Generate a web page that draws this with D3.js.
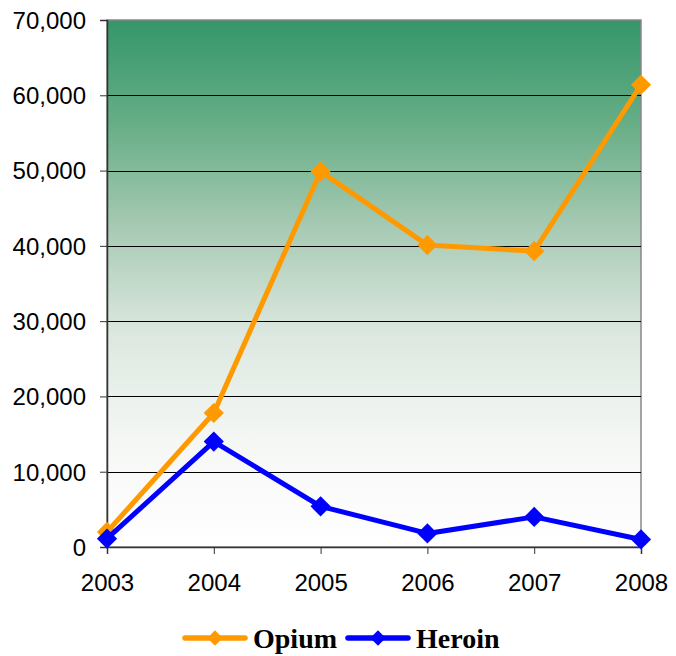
<!DOCTYPE html>
<html>
<head>
<meta charset="utf-8">
<script src="https://cdn.jsdelivr.net/npm/d3@7"></script>
<style>
  body { margin: 0; background: #fff; }
  svg { display: block; }
  .tick text { font-family: "Liberation Sans", Arial, sans-serif; font-size: 24px; fill: #000; }
  .legend text { font-family: "Liberation Serif", "Times New Roman", serif; font-size: 28px; font-weight: bold; }
</style>
</head>
<body>
<svg width="676" height="656"></svg>
<script>
// chart data
const years = ["2003", "2004", "2005", "2006", "2007", "2008"];
const opium = [2000, 17800, 49900, 40100, 39300, 61400];
const heroin = [1100, 14000, 5400, 1800, 4000, 1000];
const yTicks = [0, 10000, 20000, 30000, 40000, 50000, 60000, 70000];
const seriesNames = ["Opium", "Heroin"];
const seriesColors = ["#ff9900", "#0000ff"];

const svg = d3.select('svg');
const margin = { left: 107, top: 20, right: 35, bottom: 109 };
const width = +svg.attr('width') - margin.left - margin.right;
const height = +svg.attr('height') - margin.top - margin.bottom;

const x = d3.scalePoint().domain(years).range([0, width]);
const y = d3.scaleLinear().domain([0, 70000]).range([height, 0]);

// background gradient, green on top fading to white
const defs = svg.append('defs');
const grad = defs.append('linearGradient')
  .attr('id', 'bg')
  .attr('x1', 0).attr('y1', 0).attr('x2', 0).attr('y2', 1);
[[0, '#34966a'], [0.2, '#68ae87'], [0.4, '#a9cbb5'], [0.6, '#dde8e0'], [0.8, '#f5f7f5'], [1, '#ffffff']]
  .forEach(s => grad.append('stop').attr('offset', s[0]).attr('stop-color', s[1]));

const g = svg.append('g').attr('transform', `translate(${margin.left},${margin.top})`);

g.append('rect')
  .attr('width', width).attr('height', height)
  .attr('fill', 'url(#bg)')
  .attr('stroke', '#888').attr('stroke-width', 1.5);

// gridlines
g.append('g')
  .selectAll('line')
  .data(yTicks.filter(d => d > 0 && d < 70000))
  .join('line')
  .attr('x1', 0).attr('x2', width)
  .attr('y1', d => Math.round(y(d)) + 0.5).attr('y2', d => Math.round(y(d)) + 0.5)
  .attr('stroke', '#000').attr('stroke-width', 1);

// axes
const yAxis = g.append('g')
  .call(d3.axisLeft(y).tickValues(yTicks).tickFormat(d3.format(',')).tickSize(7).tickPadding(14));
yAxis.select('.domain').attr('stroke', '#333').attr('stroke-width', 1.5);
yAxis.selectAll('.tick line').attr('stroke', '#333');
yAxis.selectAll('.tick text').attr('dy', '0.35em');

const xAxis = g.append('g')
  .attr('transform', `translate(0,${height})`)
  .call(d3.axisBottom(x).tickSize(7).tickPadding(20));
xAxis.select('.domain').attr('stroke', '#333').attr('stroke-width', 1.5);
xAxis.selectAll('.tick line').attr('stroke', '#333');

// lines + diamond markers
const line = d3.line().x((d, i) => x(years[i])).y(d => y(d));
const diamond = d3.symbol().type(d3.symbolDiamond2);

[opium, heroin].forEach((vals, k) => {
  g.append('path')
    .datum(vals)
    .attr('d', line)
    .attr('fill', 'none')
    .attr('stroke', seriesColors[k])
    .attr('stroke-width', 5)
    .attr('stroke-linejoin', 'round');
  g.append('g')
    .selectAll('path')
    .data(vals)
    .join('path')
    .attr('d', diamond.size(260)())
    .attr('transform', (d, i) => `translate(${x(years[i])},${y(d)})`)
    .attr('fill', seriesColors[k]);
});

// legend
const legend = svg.append('g').attr('class', 'legend');
const legendX = [185, 348];
seriesNames.forEach((name, k) => {
  const lg = legend.append('g').attr('transform', `translate(${legendX[k]},638)`);
  lg.append('line')
    .attr('x1', 0).attr('x2', 60)
    .attr('stroke', seriesColors[k]).attr('stroke-width', 5.5).attr('stroke-linecap', 'round');
  lg.append('path')
    .attr('d', diamond.size(150)())
    .attr('transform', 'translate(30,0)')
    .attr('fill', seriesColors[k]);
  lg.append('text')
    .attr('x', 68).attr('y', 10)
    .text(name);
});
</script>
</body>
</html>
